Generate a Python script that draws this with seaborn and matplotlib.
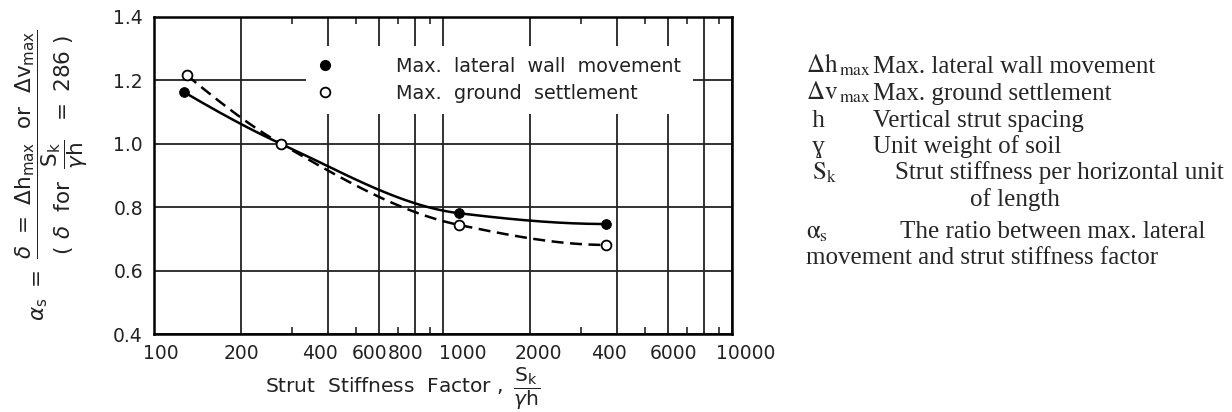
import matplotlib.pyplot as plt
import matplotlib.transforms as mtransforms
import numpy as np
import pandas as pd
import seaborn as sns
from matplotlib.lines import Line2D

# values
lateral_x = [127, 275, 1137, 3660]
lateral_y = [1.163, 1.0, 0.781, 0.747]
settle_x = [130, 275, 1137, 3660]
settle_y = [1.216, 1.0, 0.744, 0.681]

x_major = [100, 200, 400, 600, 800, 1000, 2000, 4000, 6000, 8000, 10000]
x_major_labels = ["100", "200", "400", "600", "800", "1000", "2000", "400", "6000", "", "10000"]
x_minor = [300, 500, 700, 900, 3000, 5000, 7000, 9000]
y_ticks = [0.4, 0.6, 0.8, 1.0, 1.2, 1.4]

legend_labels = ["Max.  lateral  wall  movement", "Max.  ground  settlement"]

notation_symbols = [r"$\Delta\mathrm{h}_{\,\mathrm{max}}$", r"$\Delta\mathrm{v}_{\,\mathrm{max}}$",
                    " h", " ɣ", r"$\ \mathrm{S_k}$", r"$\mathrm{\alpha_s}$"]
notation_texts = ["Max. lateral wall movement", "Max. ground settlement", "Vertical strut spacing",
                  "Unit weight of soil", "Strut stiffness per horizontal unit", "The ratio between max. lateral"]


def smooth_curve(xs, ys, n=200):
    # monotone cubic (Fritsch-Carlson) through the read points, in log10(x)
    x = np.log10(np.asarray(xs, float))
    y = np.asarray(ys, float)
    h = np.diff(x)
    d = np.diff(y) / h
    m = np.zeros_like(y)
    for k in range(1, len(x) - 1):
        if d[k - 1] * d[k] > 0:
            w1, w2 = 2 * h[k] + h[k - 1], h[k] + 2 * h[k - 1]
            m[k] = (w1 + w2) / (w1 / d[k - 1] + w2 / d[k])
    m[0] = ((2 * h[0] + h[1]) * d[0] - h[0] * d[1]) / (h[0] + h[1])
    if np.sign(m[0]) != np.sign(d[0]):
        m[0] = 0
    m[-1] = ((2 * h[-1] + h[-2]) * d[-1] - h[-1] * d[-2]) / (h[-1] + h[-2])
    if np.sign(m[-1]) != np.sign(d[-1]):
        m[-1] = 0
    grid = np.linspace(x[0], x[-1], n)
    idx = np.clip(np.searchsorted(x, grid) - 1, 0, len(x) - 2)
    t = (grid - x[idx]) / h[idx]
    h00 = 2 * t**3 - 3 * t**2 + 1
    h10 = t**3 - 2 * t**2 + t
    h01 = -2 * t**3 + 3 * t**2
    h11 = t**3 - t**2
    yy = h00 * y[idx] + h10 * h[idx] * m[idx] + h01 * y[idx + 1] + h11 * h[idx] * m[idx + 1]
    return pd.DataFrame({"x": 10 ** grid, "y": yy})


def main():
    sns.set_style("white")
    plt.rcParams["font.family"] = ["DejaVu Sans"]

    fig = plt.figure(figsize=(12.32, 4.12), dpi=100)
    ax = fig.add_axes([154 / 1232, 78 / 412, 578 / 1232, 317 / 412])

    sns.lineplot(data=smooth_curve(lateral_x, lateral_y), x="x", y="y", ax=ax, color="black", lw=1.8)
    sns.lineplot(data=smooth_curve(settle_x, settle_y), x="x", y="y", ax=ax, color="black", lw=1.8)
    ax.lines[-1].set_dashes([4.8, 2.6])

    pts_l = pd.DataFrame({"x": lateral_x, "y": lateral_y})
    pts_s = pd.DataFrame({"x": settle_x, "y": settle_y})
    sns.scatterplot(data=pts_l, x="x", y="y", ax=ax, color="black", s=50, edgecolor="black", zorder=5)
    sns.scatterplot(data=pts_s, x="x", y="y", ax=ax, facecolor="white", s=50, edgecolor="black",
                    linewidth=1.3, zorder=5)

    ax.set_xscale("log")
    ax.set_xlim(100, 10000)
    ax.set_ylim(0.4, 1.4)
    ax.set_xticks(x_major)
    ax.set_xticklabels(x_major_labels)
    ax.set_xticks(x_minor, minor=True)
    ax.set_xticklabels([""] * len(x_minor), minor=True)
    ax.set_yticks(y_ticks)
    ax.set_yticklabels([f"{v:.1f}" for v in y_ticks])

    ax.grid(True, which="major", color="#222222", lw=1.3)
    ax.set_axisbelow(True)
    for sp in ax.spines.values():
        sp.set_color("black")
        sp.set_linewidth(1.8)
    ax.tick_params(axis="both", which="major", length=0, labelsize=13.5, colors="#222222")
    ax.tick_params(axis="x", which="major", pad=7)
    ax.tick_params(axis="y", which="major", pad=8)
    ax.tick_params(axis="x", which="minor", direction="in", length=5, width=1.2, top=True, bottom=True)

    # hand-lettered tick labels sit a little off their grid lines
    nudge = {"100": 7, "400": -8, "600": -9, "800": -9, "1000": 20, "2000": 8, "6000": 6, "10000": 14}
    for lab in ax.get_xticklabels():
        dx = nudge.get(lab.get_text(), 0)
        if dx:
            lab.set_transform(lab.get_transform() + mtransforms.ScaledTranslation(dx / 100, 0, fig.dpi_scale_trans))

    ax.set_xlabel(r"Strut  Stiffness  Factor $,\ \dfrac{\mathrm{S_k}}{\gamma\mathrm{h}}$",
                  fontsize=14.5, math_fontfamily="dejavusans", color="#222222")
    ax.xaxis.set_label_coords(0.43, -0.1)
    ax.set_ylabel(r"$\alpha_\mathrm{s}\ =\ \dfrac{\delta\ =\ \Delta\mathrm{h}_\mathrm{max}\ \ \mathrm{or}\ \ "
                  r"\Delta\mathrm{v}_\mathrm{max}}{(\ \delta\ \ \mathrm{for}\ \ \dfrac{\mathrm{S_k}}{\gamma\mathrm{h}}"
                  r"\ \ =\ 286\ )}$",
                  fontsize=15.5, math_fontfamily="dejavusans", color="#222222")
    ax.yaxis.set_label_coords(-0.11, 0.5)

    handles = [Line2D([], [], ls="none", marker="o", ms=7, color="black"),
               Line2D([], [], ls="none", marker="o", ms=7, mfc="white", mec="black", mew=1.3)]
    leg = ax.legend(handles, legend_labels, loc="upper left", bbox_to_anchor=(0.263, 0.91),
                    fontsize=13.8, frameon=True, fancybox=False, framealpha=1, facecolor="white",
                    edgecolor="none", handlelength=0.8, handletextpad=3.3, borderpad=0.6,
                    labelspacing=0.4, borderaxespad=0)
    for t in leg.get_texts():
        t.set_color("#222222")

    # notation list on the right
    serif = ["Liberation Serif", "DejaVu Serif"]
    fs = 18
    baselines = [73, 100, 127, 153, 179, 238]
    desc_x = [873, 873, 873, 873, 895, 900]
    for sym, txt, yb, dx in zip(notation_symbols, notation_texts, baselines, desc_x):
        fig.text(806 / 1232, 1 - yb / 412, sym, fontsize=fs, family=serif, math_fontfamily="stix",
                 va="baseline", ha="left")
        fig.text(dx / 1232, 1 - yb / 412, txt, fontsize=fs, family=serif, va="baseline", ha="left")
    fig.text(970 / 1232, 1 - 206 / 412, "of length", fontsize=fs, family=serif, va="baseline")
    fig.text(806 / 1232, 1 - 264 / 412, "movement and strut stiffness factor", fontsize=fs,
             family=serif, va="baseline")

    fig.savefig("out.png", dpi=100)


if __name__ == "__main__":
    main()
